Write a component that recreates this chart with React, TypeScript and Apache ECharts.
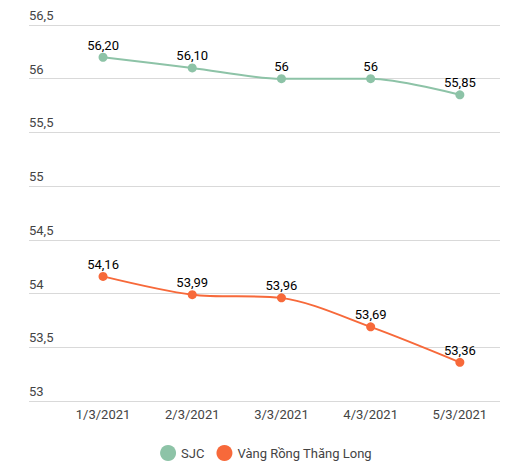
import * as echarts from 'echarts';
import React, { useEffect, useRef } from 'react';

const categories = ['1/3/2021', '2/3/2021', '3/3/2021', '4/3/2021', '5/3/2021'];
const sjcValues = [56.2, 56.1, 56.0, 56.0, 55.85];
const thangLongValues = [54.16, 53.99, 53.96, 53.69, 53.36];
const seriesNames = ['SJC', 'Vàng Rồng Thăng Long'];

const fmtAxis = (v: number) => String(v).replace('.', ',');
const fmtLabel = (v: number) => (Number.isInteger(v) ? String(v) : v.toFixed(2).replace('.', ','));

const App: React.FC = () => {
  const chartRef = useRef<HTMLDivElement>(null);

  useEffect(() => {
    document.body.style.margin = '0';
    if (!chartRef.current) return;
    const chart = echarts.init(chartRef.current, undefined, { renderer: 'svg' });

    const makeSeries = (name: string, values: number[], color: string) => ({
      name,
      type: 'line' as const,
      data: values.map((v, i) => [i, v]),
      smooth: 0.3,
      symbol: 'circle',
      symbolSize: 9,
      lineStyle: { width: 2, color },
      itemStyle: { color },
      label: {
        show: true,
        position: 'top',
        distance: 1,
        color: '#000',
        fontSize: 13,
        fontFamily: 'Roboto',
        formatter: (p: any) => fmtLabel(p.value[1]),
      },
    });

    chart.setOption({
      animation: false,
      textStyle: { fontFamily: 'Roboto' },
      grid: { left: 29, right: 32, top: 25, bottom: 73 },
      legend: {
        bottom: 8,
        left: 'center',
        icon: 'circle',
        itemWidth: 16,
        itemHeight: 16,
        itemGap: 12,
        textStyle: { color: '#444', fontSize: 13, fontFamily: 'Roboto' },
        data: seriesNames,
      },
      xAxis: {
        type: 'value',
        min: -0.83,
        max: 4.45,
        axisLine: { show: false },
        axisTick: { show: false },
        splitLine: { show: false },
        axisLabel: {
          customValues: categories.map((_, i) => i),
          formatter: (v: number) => categories[v] ?? '',
          color: '#444',
          fontSize: 13,
          margin: 7,
        },
      },
      yAxis: {
        type: 'value',
        min: 53,
        max: 56.5,
        interval: 0.5,
        axisLine: { show: false },
        axisTick: { show: false },
        splitLine: { lineStyle: { color: '#d9d9d9', width: 1 } },
        axisLabel: {
          inside: true,
          margin: 0,
          verticalAlign: 'bottom',
          padding: [0, 0, 3, 0],
          color: '#444',
          fontSize: 13,
          formatter: (v: number) => fmtAxis(v),
        },
      },
      series: [
        makeSeries(seriesNames[0], sjcValues, '#8dc3a7'),
        makeSeries(seriesNames[1], thangLongValues, '#f7693a'),
      ],
    });

    return () => {
      chart.dispose();
    };
  }, []);

  return <div ref={chartRef} style={{ width: 532, height: 474 }} />;
};

export default App;
